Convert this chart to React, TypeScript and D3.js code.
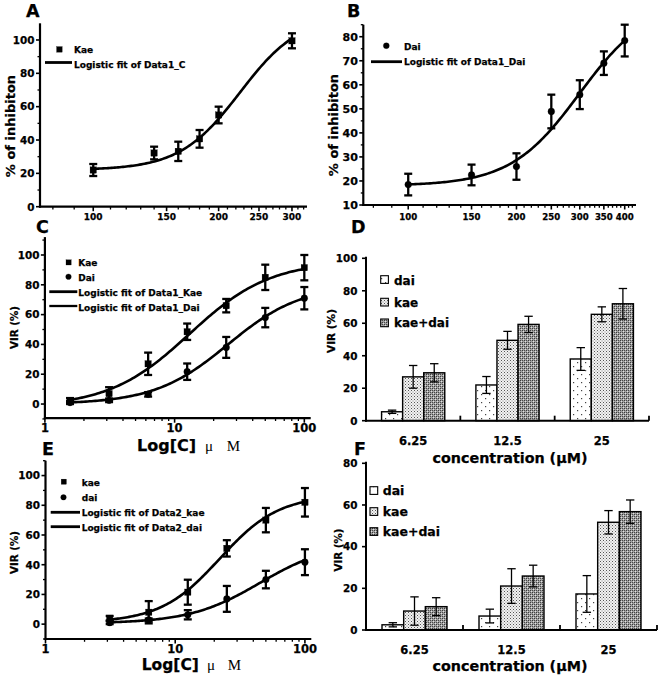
import React from 'react';
import * as d3 from 'd3';

const FONT = "'DejaVu Sans', 'Liberation Sans', Arial, sans-serif";
const SERIF = "'Liberation Serif', 'DejaVu Serif', serif";

// ---------- Panel A ----------
const aConc = [100, 140, 160, 180, 200, 300];
const aKae = [22, 32.2, 33.2, 40.7, 55, 99.5];
const aKaeErr = [3.6, 3.8, 5.8, 5.3, 5, 4.5];
const aKaeFit = [22, 115, 225, 6]; // A1, A2, x0, p
const aXTicks = [100, 150, 200, 250, 300];
const aXMinor = [80, 90, 110, 120, 130, 140, 160, 170, 180, 190, 210, 220, 230, 240, 260, 270, 280, 290, 310, 320];
const aYTicks = [0, 20, 40, 60, 80, 100];
const aYMinor = [10, 30, 50, 70, 90];

// ---------- Panel B ----------
const bConc = [100, 150, 200, 250, 300, 350, 400];
const bDai = [18.5, 22.5, 26, 48.9, 55.9, 69, 78.4];
const bDaiErr = [4.5, 4.3, 5.5, 7, 6, 4.9, 6.6];
const bDaiFit = [18, 95, 300, 4.5];
const bXTicks = [100, 150, 200, 250, 300, 350, 400];
const bXMinor = [80, 90, 110, 120, 130, 140, 160, 170, 180, 190, 210, 220, 230, 240, 260, 270, 280, 290, 310, 320, 330, 340, 360, 370, 380, 390, 410, 420];
const bYTicks = [10, 20, 30, 40, 50, 60, 70, 80];
const bYMinor = [15, 25, 35, 45, 55, 65, 75, 85];

// ---------- Panel C ----------
const cConc = [1.5625, 3.125, 6.25, 12.5, 25, 50, 100];
const cKae = [2.5, 7, 27, 48.5, 66, 85, 91.5];
const cKaeErr = [1.5, 4.3, 7.5, 5.5, 4.5, 8.5, 8.5];
const cDai = [1, 2.5, 6.5, 21.7, 38, 58, 71];
const cDaiErr = [1, 1.2, 1.5, 5.5, 7, 6.5, 7.5];
const cKaeFit = [-2, 96, 13, 1.4];
const cDaiFit = [0, 80, 25.8, 1.53];
const logXTicks = [1, 10, 100];
const logXMinor = [2, 3, 4, 5, 6, 7, 8, 9, 20, 30, 40, 50, 60, 70, 80, 90];
const vYTicks = [0, 20, 40, 60, 80, 100];
const vYMinor = [-10, 10, 30, 50, 70, 90, 110];

// ---------- Panel E ----------
const eConc = [3.125, 6.25, 12.5, 25, 50, 100];
const eKae = [4, 8, 21.5, 51, 70, 82];
const eKaeErr = [1.5, 7.5, 8.4, 5.5, 8.2, 9.6];
const eDai = [1, 2.8, 6.3, 17, 30, 41.7];
const eDaiErr = [1, 1, 3.1, 8.7, 5.9, 8.7];
const eKaeFit = [1, 87, 22, 1.9];
const eDaiFit = [0.5, 55, 45, 1.6];

// ---------- Panels D & F (bars) ----------
const concCats = ['6.25', '12.5', '25'];
const barKeys = ['dai', 'kae', 'kae+dai'];
const dDai = [5.5, 22, 38];
const dDaiErr = [1, 5.2, 7];
const dKae = [27, 49.5, 65.5];
const dKaeErr = [7, 5.5, 4.6];
const dCombo = [29.5, 59.3, 72];
const dComboErr = [5.6, 5, 9.4];
const dYTicks = [0, 20, 40, 60, 80, 100];

const fDai = [2.5, 6.7, 17.3];
const fDaiErr = [1, 3.3, 8.8];
const fKae = [9.1, 21.1, 51.7];
const fKaeErr = [6.8, 8.3, 5.6];
const fCombo = [11.2, 25.9, 56.8];
const fComboErr = [4.3, 5.2, 5.6];
const fYTicks = [0, 20, 40, 60, 80];

const logistic = (x: number, f: number[]) => f[1] + (f[0] - f[1]) / (1 + Math.pow(x / f[2], f[3]));

type Series = { conc: number[]; vals: number[]; errs: number[]; marker: 'square' | 'circle'; fit: number[] };

function LinePanel(props: any) {
  const { x, y, xTicks, xMinor, yTicks, yMinor, xFs, yFs, xLabelY, series } = props;
  const [x0, x1] = x.range();
  const [y0, y1] = y.range();
  const line = d3.line<[number, number]>().x((d) => x(d[0])).y((d) => y(d[1]));
  return (
    <g>
      {(series as Series[]).map((s, si) => {
        const lo = s.conc[0];
        const hi = s.conc[s.conc.length - 1];
        const pts: [number, number][] = d3.range(0, 121).map((i) => {
          const c = lo * Math.pow(hi / lo, i / 120);
          return [c, logistic(c, s.fit)];
        });
        return <path key={'f' + si} d={line(pts) || ''} fill="none" stroke="#000" strokeWidth={2.6} />;
      })}
      {(series as Series[]).map((s, si) => (
        <g key={'s' + si}>
          {s.conc.map((c, i) => {
            const cx = x(c);
            const ya = y(s.vals[i] + s.errs[i]);
            const yb = y(s.vals[i] - s.errs[i]);
            return (
              <g key={i} stroke="#000" strokeWidth={2.3}>
                <line x1={cx} x2={cx} y1={ya} y2={yb} />
                <line x1={cx - 4} x2={cx + 4} y1={ya} y2={ya} />
                <line x1={cx - 4} x2={cx + 4} y1={yb} y2={yb} />
              </g>
            );
          })}
          {s.conc.map((c, i) =>
            s.marker === 'square' ? (
              <rect key={'m' + i} x={x(c) - 3.2} y={y(s.vals[i]) - 3.2} width={6.4} height={6.4} fill="#000" />
            ) : (
              <circle key={'m' + i} cx={x(c)} cy={y(s.vals[i])} r={3.4} fill="#000" />
            )
          )}
        </g>
      ))}
      <line x1={x0} x2={x0} y1={y0 + 1} y2={y1} stroke="#000" strokeWidth={2.2} />
      <line x1={x0 - 1} x2={x1} y1={y0} y2={y0} stroke="#000" strokeWidth={2.2} />
      {yTicks.map((t: number) => (
        <g key={'yt' + t}>
          <line x1={x0 - 4} x2={x0} y1={y(t)} y2={y(t)} stroke="#000" strokeWidth={1.6} />
          <text x={x0 - 5.5} y={y(t) + 3.8} textAnchor="end" fontSize={yFs}>{t}</text>
        </g>
      ))}
      {yMinor.map((t: number) => (
        <line key={'ym' + t} x1={x0 - 2.5} x2={x0} y1={y(t)} y2={y(t)} stroke="#000" strokeWidth={1.3} />
      ))}
      {xTicks.map((t: number) => (
        <g key={'xt' + t}>
          <line x1={x(t)} x2={x(t)} y1={y0} y2={y0 + 4.5} stroke="#000" strokeWidth={1.6} />
          <text x={x(t)} y={xLabelY} textAnchor="middle" fontSize={xFs}>{t}</text>
        </g>
      ))}
      {xMinor.map((t: number) => (
        <line key={'xm' + t} x1={x(t)} x2={x(t)} y1={y0} y2={y0 + 2.8} stroke="#000" strokeWidth={1.3} />
      ))}
    </g>
  );
}

function BarPanel(props: any) {
  const { x, y, yTicks, series, axisTop, catLabelY } = props;
  const [x0, x1] = x.range();
  const y0 = y(0);
  const sub = d3.scaleBand<string>().domain(barKeys).range([0, x.bandwidth()]).paddingInner(0).paddingOuter(0.739);
  const fills = ['url(#pDai)', 'url(#pKae)', 'url(#pCombo)'];
  return (
    <g>
      {series.map((s: any, si: number) =>
        concCats.map((c, i) => {
          const bx = x(c) + sub(barKeys[si]);
          return (
            <rect key={si + '-' + i} x={bx} y={y(s.vals[i])} width={sub.bandwidth()} height={y0 - y(s.vals[i])}
              fill={fills[si]} stroke="#000" strokeWidth={1.4} />
          );
        })
      )}
      {series.map((s: any, si: number) =>
        concCats.map((c, i) => {
          const cx = x(c) + sub(barKeys[si]) + sub.bandwidth() / 2;
          const ya = y(s.vals[i] + s.errs[i]);
          const yb = y(s.vals[i] - s.errs[i]);
          return (
            <g key={'e' + si + '-' + i} stroke="#000" strokeWidth={1.3}>
              <line x1={cx} x2={cx} y1={ya} y2={yb} />
              <line x1={cx - 4.2} x2={cx + 4.2} y1={ya} y2={ya} />
              <line x1={cx - 4.2} x2={cx + 4.2} y1={yb} y2={yb} />
            </g>
          );
        })
      )}
      <line x1={x0} x2={x0} y1={y0 + 1} y2={axisTop} stroke="#000" strokeWidth={2} />
      <line x1={x0 - 1} x2={x1} y1={y0} y2={y0} stroke="#000" strokeWidth={2} />
      {concCats.map((c, i) => (
        <line key={'ct' + i} x1={x(c) + x.bandwidth()} x2={x(c) + x.bandwidth()} y1={y0} y2={y0 - 5} stroke="#000" strokeWidth={1.8} />
      ))}
      {concCats.map((c) => (
        <text key={'cl' + c} x={x(c) + x.bandwidth() / 2} y={catLabelY} textAnchor="middle" fontSize={11.5}>{c}</text>
      ))}
      {yTicks.map((t: number) => (
        <g key={'yt' + t}>
          <line x1={x0 - 4} x2={x0} y1={y(t)} y2={y(t)} stroke="#000" strokeWidth={1.6} />
          <text x={x0 - 8.5} y={y(t) + 3.8} textAnchor="end" fontSize={10.4}>{t}</text>
        </g>
      ))}
    </g>
  );
}

function BarLegend({ x, tops, size, textX, baselines, fs }: any) {
  const fills = ['url(#pDai)', 'url(#pKae)', 'url(#pCombo)'];
  return (
    <g>
      {barKeys.map((k, i) => (
        <g key={k}>
          <rect x={x} y={tops[i]} width={size} height={size} fill={fills[i]} stroke="#000" strokeWidth={1.1} />
          <text x={textX} y={baselines[i]} fontSize={fs}>{k}</text>
        </g>
      ))}
    </g>
  );
}

export default function App() {
  const xA = d3.scaleLog().domain([74.5, 326]).range([40, 307]);
  const yA = d3.scaleLinear().domain([0, 110]).range([206.7, 23.3]);
  const xB = d3.scaleLog().domain([75, 430]).range([363.3, 636]);
  const yB = d3.scaleLinear().domain([10, 85]).range([205, 24.7]);
  const xC = d3.scaleLog().domain([1, 112]).range([44.9, 310.7]);
  const yC = d3.scaleLinear().domain([-9.5, 112]).range([418.2, 237.1]);
  const xE = d3.scaleLog().domain([1, 112]).range([45.5, 311.3]);
  const yE = d3.scaleLinear().domain([-10, 110]).range([639, 460.7]);
  const xD = d3.scaleBand<string>().domain(concCats).range([366, 649]).padding(0);
  const yD = d3.scaleLinear().domain([0, 100]).range([420.7, 258.3]);
  const xF = d3.scaleBand<string>().domain(concCats).range([366, 657]).padding(0);
  const yF = d3.scaleLinear().domain([0, 80]).range([630, 463.3]);

  const dSeries = [
    { vals: dDai, errs: dDaiErr },
    { vals: dKae, errs: dKaeErr },
    { vals: dCombo, errs: dComboErr },
  ];
  const fSeries = [
    { vals: fDai, errs: fDaiErr },
    { vals: fKae, errs: fKaeErr },
    { vals: fCombo, errs: fComboErr },
  ];

  return (
    <svg width={662} height={677} style={{ position: 'absolute', left: 0, top: 0, background: '#fff' }}
      fontFamily={FONT} fontWeight="bold">
      <defs>
        <pattern id="pDai" width={8} height={8} patternUnits="userSpaceOnUse">
          <rect width={8} height={8} fill="#fff" />
          <rect x={1} y={2} width={1.2} height={1.2} fill="#444" />
          <rect x={5} y={6} width={1.2} height={1.2} fill="#444" />
        </pattern>
        <pattern id="pKae" width={3} height={3} patternUnits="userSpaceOnUse">
          <rect width={3} height={3} fill="#f2f2f2" />
          <rect x={0} y={0} width={1} height={1} fill="#555" />
          <rect x={1.5} y={1.5} width={1} height={1} fill="#888" />
        </pattern>
        <pattern id="pCombo" width={4} height={4} patternUnits="userSpaceOnUse">
          <rect width={4} height={4} fill="#a0a0a0" />
          <rect x={0} y={0} width={1} height={1} fill="#3a3a3a" />
          <rect x={2} y={2} width={1} height={1} fill="#3a3a3a" />
          <rect x={2} y={0} width={1} height={1} fill="#4a4a4a" />
          <rect x={0} y={2} width={1} height={1} fill="#4a4a4a" />
          <rect x={1} y={1} width={1} height={1} fill="#e0e0e0" />
          <rect x={3} y={3} width={1} height={1} fill="#e0e0e0" />
        </pattern>
      </defs>
      <rect width={662} height={677} fill="#fff" />

      <g stroke="#000" strokeWidth={0.25}>
        {/* Panel letters */}
        <text x={26} y={17} fontSize={17.5}>A</text>
        <text x={347} y={17} fontSize={17.5}>B</text>
        <text x={36} y={233} fontSize={17.5}>C</text>
        <text x={351} y={233} fontSize={17.5}>D</text>
        <text x={42} y={455} fontSize={17.5}>E</text>
        <text x={354} y={455} fontSize={17.5}>F</text>

        {/* Panel A */}
        <LinePanel x={xA} y={yA} xTicks={aXTicks} xMinor={aXMinor} yTicks={aYTicks} yMinor={aYMinor}
          xFs={9} yFs={10.4} xLabelY={220}
          series={[{ conc: aConc, vals: aKae, errs: aKaeErr, marker: 'square', fit: aKaeFit }]} />
        <text transform="translate(15,126) rotate(-90)" textAnchor="middle" fontSize={13}>% of inhibiton</text>
        <rect x={56.6} y={46.6} width={5.6} height={5.6} fill="#000" />
        <text x={74} y={53.3} fontSize={9}>Kae</text>
        <line x1={45} x2={72} y1={62.5} y2={62.5} stroke="#000" strokeWidth={2.8} />
        <text x={74} y={67.5} fontSize={9}>Logistic fit of Data1_C</text>

        {/* Panel B */}
        <LinePanel x={xB} y={yB} xTicks={bXTicks} xMinor={bXMinor} yTicks={bYTicks} yMinor={bYMinor}
          xFs={8.6} yFs={11} xLabelY={220}
          series={[{ conc: bConc, vals: bDai, errs: bDaiErr, marker: 'circle', fit: bDaiFit }]} />
        <text transform="translate(337.5,125) rotate(-90)" textAnchor="middle" fontSize={13}>% of inhibiton</text>
        <circle cx={386.3} cy={45.7} r={3} fill="#000" />
        <text x={404} y={50} fontSize={9}>Dai</text>
        <line x1={371} x2={402} y1={61.7} y2={61.7} stroke="#000" strokeWidth={2.8} />
        <text x={404} y={65} fontSize={9}>Logistic fit of Data1_Dai</text>

        {/* Panel C */}
        <LinePanel x={xC} y={yC} xTicks={logXTicks} xMinor={logXMinor} yTicks={vYTicks} yMinor={vYMinor}
          xFs={11.5} yFs={10.4} xLabelY={432}
          series={[
            { conc: cConc, vals: cKae, errs: cKaeErr, marker: 'square', fit: cKaeFit },
            { conc: cConc, vals: cDai, errs: cDaiErr, marker: 'circle', fit: cDaiFit },
          ]} />
        <text transform="translate(18.3,327.5) rotate(-90)" textAnchor="middle" fontSize={10.3}>VIR (%)</text>
        <rect x={66} y={259.8} width={5.2} height={5.2} fill="#000" />
        <text x={78.3} y={266} fontSize={9}>Kae</text>
        <circle cx={68.5} cy={276.7} r={2.8} fill="#000" />
        <text x={78.3} y={281} fontSize={9}>Dai</text>
        <line x1={49.3} x2={77.3} y1={291.7} y2={291.7} stroke="#000" strokeWidth={2.8} />
        <text x={78.3} y={295.5} fontSize={9}>Logistic fit of Data1_Kae</text>
        <line x1={49.3} x2={77.3} y1={306} y2={306} stroke="#000" strokeWidth={2.3} />
        <text x={78.3} y={310.5} fontSize={9}>Logistic fit of Data1_Dai</text>
        <text x={137} y={450.5} fontSize={16}>Log[C]</text>
        <text x={205} y={450.5} fontSize={15} fontFamily={SERIF} fontWeight="normal" strokeWidth={0} textLength={35} lengthAdjust="spacing">μ M</text>

        {/* Panel E */}
        <LinePanel x={xE} y={yE} xTicks={logXTicks} xMinor={logXMinor} yTicks={vYTicks} yMinor={vYMinor}
          xFs={11.5} yFs={10.4} xLabelY={652.5}
          series={[
            { conc: eConc, vals: eKae, errs: eKaeErr, marker: 'square', fit: eKaeFit },
            { conc: eConc, vals: eDai, errs: eDaiErr, marker: 'circle', fit: eDaiFit },
          ]} />
        <text transform="translate(18.3,552.5) rotate(-90)" textAnchor="middle" fontSize={10.3}>VIR (%)</text>
        <rect x={61.2} y={479.1} width={5.2} height={5.2} fill="#000" />
        <text x={81.7} y={485.8} fontSize={9}>kae</text>
        <circle cx={63.5} cy={497.3} r={2.8} fill="#000" />
        <text x={81.7} y={501} fontSize={9}>dai</text>
        <line x1={50.7} x2={80} y1={512.3} y2={512.3} stroke="#000" strokeWidth={2.8} />
        <text x={81.7} y={515.6} fontSize={9}>Logistic fit of Data2_kae</text>
        <line x1={50.7} x2={80} y1={526.7} y2={526.7} stroke="#000" strokeWidth={2.8} />
        <text x={81.7} y={530.6} fontSize={9}>Logistic fit of Data2_dai</text>
        <text x={141.7} y={669.5} fontSize={15.5}>Log[C]</text>
        <text x={207} y={669.5} fontSize={15} fontFamily={SERIF} fontWeight="normal" strokeWidth={0} textLength={34} lengthAdjust="spacing">μ M</text>

        {/* Panel D */}
        <BarPanel x={xD} y={yD} yTicks={dYTicks} series={dSeries} axisTop={256.7} catLabelY={445} />
        <text transform="translate(335,331) rotate(-90)" textAnchor="middle" fontSize={10.5}>VIR (%)</text>
        <BarLegend x={380.7} tops={[275.7, 298.3, 319]} size={7.7} textX={394} baselines={[284.5, 306.5, 327]} fs={12} />
        <text x={510} y={462.5} textAnchor="middle" fontSize={14.3}>concentration (μM)</text>

        {/* Panel F */}
        <BarPanel x={xF} y={yF} yTicks={fYTicks} series={fSeries} axisTop={461.7} catLabelY={654} />
        <text transform="translate(341.7,550) rotate(-90)" textAnchor="middle" fontSize={10.3}>VIR (%)</text>
        <BarLegend x={370} tops={[486.7, 507.7, 527.7]} size={7.7} textX={382.7} baselines={[495, 515.7, 536]} fs={12.5} />
        <text x={510} y={670.5} textAnchor="middle" fontSize={14.3}>concentration (μM)</text>
      </g>
    </svg>
  );
}
